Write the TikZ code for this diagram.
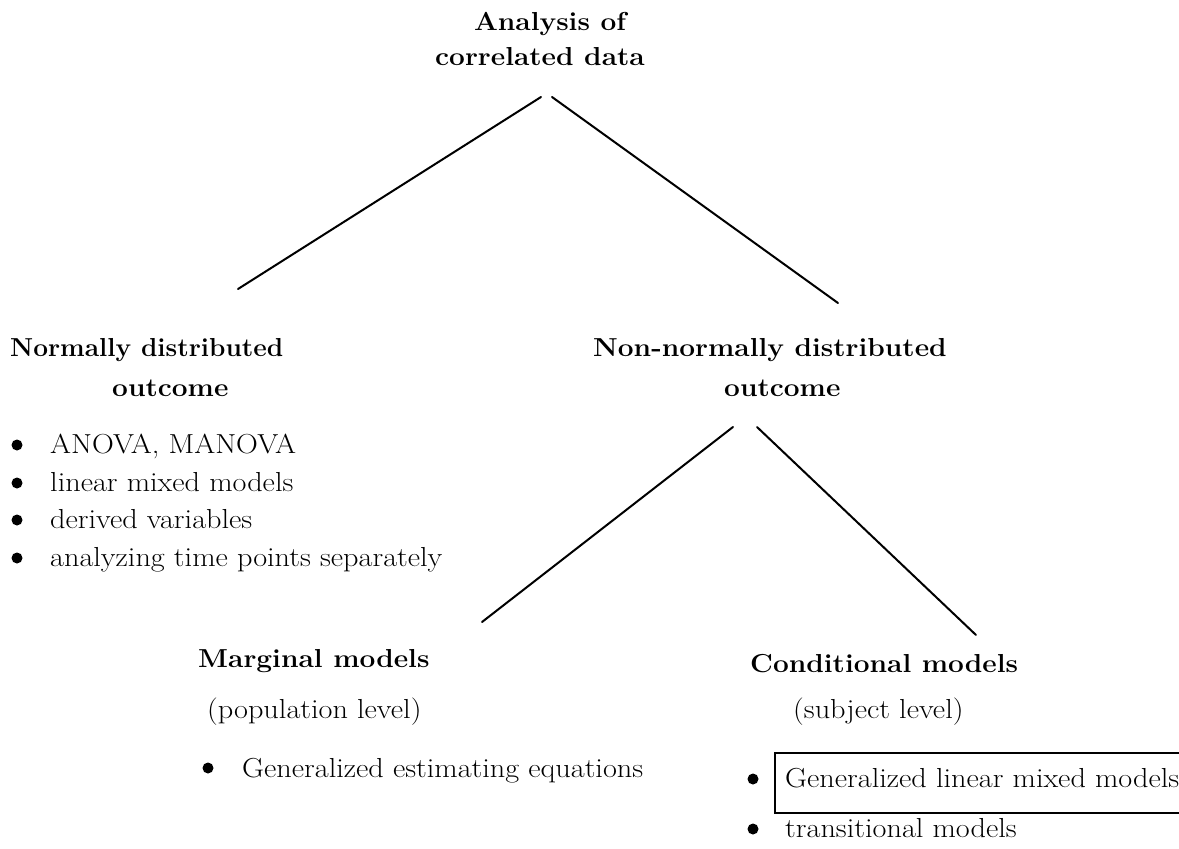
\documentclass[tikz,border=0pt]{standalone}
\usepackage{graphicx}
\newcommand{\widebold}[1]{\scalebox{1.08}[1]{#1}}
\newcommand{\wideroman}[1]{\scalebox{1.10}[1]{#1}}
\begin{document}
\begin{tikzpicture}[x=1pt,y=-1pt,
  hd/.style={font=\fontsize{26}{30}\selectfont\bfseries, inner sep=0pt, anchor=base west},
  tx/.style={font=\fontsize{27.5}{33}\selectfont, inner sep=0pt, anchor=base west},
  bul/.style={circle, fill=black, inner sep=0pt, minimum size=11pt},
  br/.style={line width=2pt, line cap=round},
  frame/.style={line width=1.3pt}]
\useasboundingbox (0,0) rectangle (1179,849);

% headings
\node[hd, anchor=base] (a1) at (550,30) {\widebold{Analysis of}};
\node[hd, anchor=base] (a2) at (540,65) {\widebold{correlated data}};
\node[hd] (n1) at (10,356) {\scalebox{1.01}[1]{Normally distributed}};
\node[hd] (n2) at (112,396) {\widebold{outcome}};
\node[hd] (m1) at (593,356) {\widebold{Non-normally distributed}};
\node[hd] (m2) at (724,396) {\widebold{outcome}};
\node[hd] (mg) at (198,667) {\widebold{Marginal models}};
\node[tx] (mg2) at (207,718) {\wideroman{(population level)}};
\node[hd] (cd) at (750,672) {\widebold{Conditional models}};
\node[tx] (cd2) at (793,718) {\wideroman{(subject level)}};

% left list
\node[bul] (b1) at (17,445) {};
\node[tx] (i1) at (50,453) {\wideroman{ANOVA, MANOVA}};
\node[bul] (b2) at (17,483) {};
\node[tx] (i2) at (50,491) {\wideroman{linear mixed models}};
\node[bul] (b3) at (17,520) {};
\node[tx] (i3) at (50,528) {\wideroman{derived variables}};
\node[bul] (b4) at (17,558) {};
\node[tx] (i4) at (50,566) {\wideroman{analyzing time points separately}};

% marginal list
\node[bul] (b5) at (208,768) {};
\node[tx] (i5) at (242,777) {\wideroman{Generalized estimating equations}};

% conditional list
\node[bul] (b6) at (753,779) {};
\node[tx] (i6) at (785,787) {\wideroman{Generalized linear mixed models}};
\draw[frame] (1179,753) -- (775,753) -- (775,813) -- (1179,813);
\node[bul] (b7) at (753,829) {};
\node[tx] (i7) at (785,837) {\wideroman{transitional models}};

% connectors
\coordinate (l1s) at (541,97);
\coordinate (l1e) at (238,289);
\coordinate (l2s) at (552,97);
\coordinate (l2e) at (838,303);
\coordinate (l3s) at (733,427);
\coordinate (l3e) at (482,622);
\coordinate (l4s) at (757,427);
\coordinate (l4e) at (976,635);
\draw[br] (l1s) -- (l1e);
\draw[br] (l2s) -- (l2e);
\draw[br] (l3s) -- (l3e);
\draw[br] (l4s) -- (l4e);
\end{tikzpicture}
\end{document}
